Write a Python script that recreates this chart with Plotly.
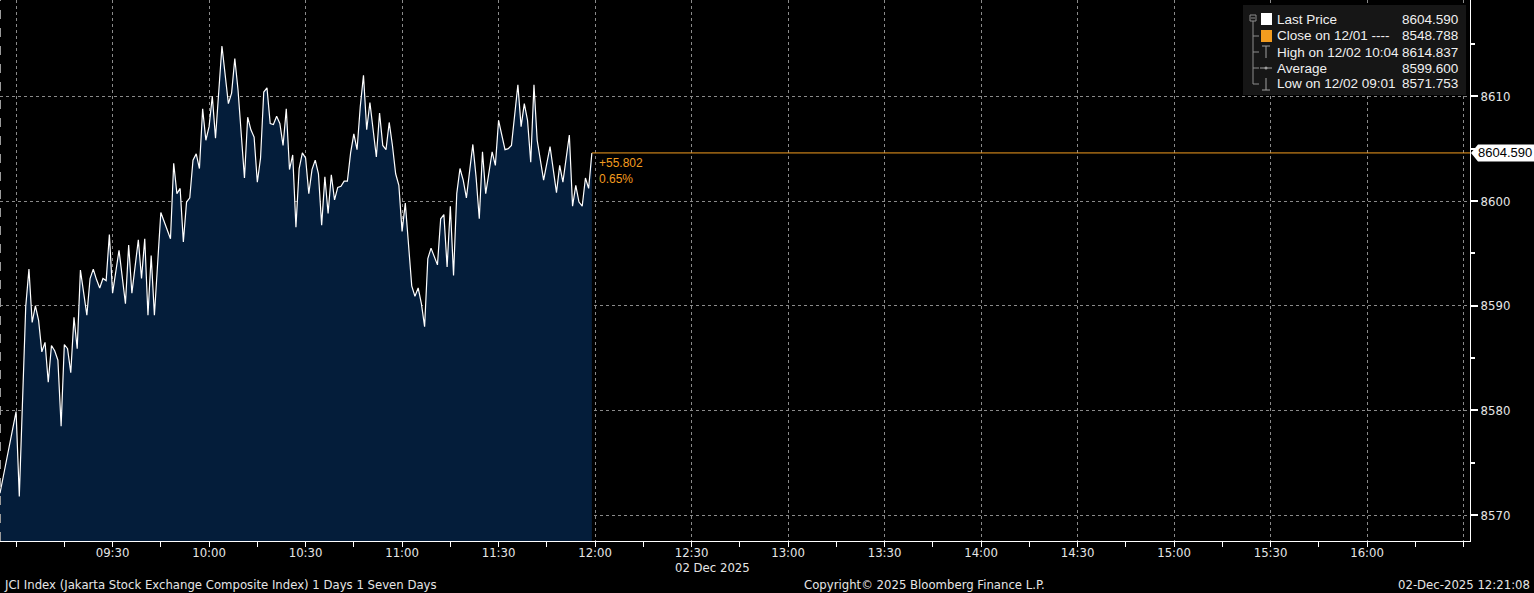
import plotly.graph_objects as go

# ---------------- data ----------------
day = "2025-12-02"
times = ["08:55", "09:00", "09:01", "09:02", "09:03", "09:04", "09:05", "09:06", "09:07", "09:08",
         "09:09", "09:10", "09:11", "09:12", "09:13", "09:14", "09:15", "09:16", "09:17", "09:18",
         "09:19", "09:20", "09:21", "09:22", "09:23", "09:24", "09:25", "09:26", "09:27", "09:28",
         "09:29", "09:30", "09:32", "09:34", "09:35", "09:36", "09:38", "09:39", "09:40", "09:41",
         "09:42", "09:43", "09:45", "09:48", "09:49", "09:50", "09:51", "09:52", "09:53", "09:54",
         "09:55", "09:56", "09:57", "09:58", "09:59", "10:00", "10:01", "10:02", "10:04", "10:06",
         "10:07", "10:08", "10:09", "10:11", "10:12", "10:13", "10:14", "10:15", "10:16", "10:17",
         "10:18", "10:19", "10:20", "10:21", "10:22", "10:23", "10:24", "10:25", "10:26", "10:27",
         "10:28", "10:29", "10:30", "10:31", "10:32", "10:33", "10:34", "10:35", "10:36", "10:37",
         "10:38", "10:39", "10:40", "10:41", "10:42", "10:43", "10:44", "10:45", "10:46", "10:47",
         "10:48", "10:49", "10:50", "10:52", "10:53", "10:54", "10:55", "10:56", "10:57", "10:58",
         "10:59", "11:00", "11:01", "11:02", "11:03", "11:04", "11:05", "11:06", "11:07", "11:08",
         "11:09", "11:11", "11:12", "11:13", "11:14", "11:15", "11:16", "11:17", "11:18", "11:19",
         "11:20", "11:22", "11:23", "11:24", "11:25", "11:26", "11:28", "11:29", "11:30", "11:32",
         "11:33", "11:34", "11:36", "11:37", "11:38", "11:39", "11:40", "11:41", "11:42", "11:44",
         "11:46", "11:48", "11:49", "11:50", "11:52", "11:53", "11:54", "11:55", "11:56", "11:57",
         "11:58", "11:59"]
prices = [8572.1, 8579.9, 8571.8, 8580.0, 8589.9, 8593.5, 8588.4, 8590.0, 8588.6, 8585.6,
          8586.5, 8582.7, 8586.2, 8585.7, 8584.8, 8578.5, 8586.3, 8585.9, 8583.6, 8588.9,
          8585.9, 8593.4, 8591.3, 8589.1, 8592.6, 8593.5, 8592.5, 8591.7, 8592.6, 8592.4,
          8596.8, 8591.2, 8595.3, 8590.2, 8595.8, 8591.2, 8596.3, 8592.6, 8596.4, 8589.1,
          8594.8, 8589.1, 8598.9, 8596.4, 8603.6, 8600.7, 8601.2, 8596.1, 8599.9, 8600.3,
          8603.9, 8604.5, 8603.1, 8608.8, 8605.8, 8607.1, 8610.0, 8606.0, 8614.8, 8609.3,
          8610.3, 8613.6, 8610.6, 8602.2, 8608.0, 8606.8, 8606.1, 8601.8, 8604.1, 8610.4,
          8610.8, 8607.4, 8607.3, 8608.1, 8607.4, 8605.3, 8608.8, 8603.0, 8604.4, 8597.5,
          8603.1, 8604.6, 8604.1, 8600.7, 8603.0, 8603.9, 8602.6, 8597.7, 8602.3, 8598.8,
          8602.5, 8600.1, 8601.3, 8601.4, 8601.9, 8601.9, 8604.6, 8606.4, 8604.9, 8609.0,
          8612.0, 8606.8, 8609.4, 8604.2, 8608.4, 8605.3, 8604.9, 8607.5, 8605.3, 8602.6,
          8601.5, 8597.1, 8599.8, 8595.6, 8591.9, 8590.9, 8591.7, 8590.2, 8588.0, 8594.5,
          8595.5, 8593.9, 8598.3, 8598.7, 8593.7, 8599.5, 8592.9, 8600.7, 8603.1, 8602.0,
          8600.3, 8605.4, 8602.3, 8598.3, 8604.7, 8600.7, 8604.7, 8603.4, 8607.7, 8604.9,
          8605.0, 8605.3, 8611.1, 8607.1, 8609.3, 8607.7, 8603.7, 8611.1, 8605.8, 8602.0,
          8605.2, 8600.8, 8603.4, 8601.8, 8606.3, 8599.5, 8601.5, 8599.9, 8599.5, 8602.2,
          8601.2, 8604.59]

legend_labels = ["Last Price", "Close on 12/01 ----", "High on 12/02 10:04", "Average", "Low on 12/02 09:01"]
legend_values = [8604.590, 8548.788, 8614.837, 8599.600, 8571.753]
prev_close = 8548.788

x_tick_labels = ["", "09:30", "10:00", "10:30", "11:00", "11:30", "12:00", "12:30", "13:00",
                 "13:30", "14:00", "14:30", "15:00", "15:30", "16:00", ""]
y_tick_vals = [8570, 8580, 8590, 8600, 8610]

# ---------------- layout helpers ----------------
W, H = 1534, 593
ML, MR, MT, MB = 0, 64, 0, 52
PW, PH = W - ML - MR, H - MT - MB
Y_RANGE = [8567.54, 8619.19]


def px(x):
    return (x - ML) / PW


def py(y):
    return (H - MB - y) / PH


def ts(t):
    return f"{day} {t}:00"


xs = [ts(t) for t in times]
last_x, last_y = xs[-1], prices[-1]

x_tick_vals = []
minor_vals = []
for m in range(0, 451, 15):
    hh, mm = 9 + m // 60, m % 60
    v = f"{day} {hh:02d}:{mm:02d}:00"
    if m % 30 == 0:
        x_tick_vals.append(v)
    else:
        minor_vals.append(v)

NARROW = "Liberation Sans Narrow, DejaVu Sans Condensed, Arial Narrow, sans-serif"
SANS = "Liberation Sans, Arial, sans-serif"
ORANGE = "#f39c1f"
GRID = "#8a8a8a"

fig = go.Figure()
fig.add_trace(go.Scatter(
    x=xs, y=prices, mode="lines",
    line=dict(color="#ffffff", width=1.2),
    fill="tozeroy", fillcolor="#041d3a",
    hoverinfo="skip", showlegend=False,
))
# previous-close-change reference line from last point to right edge
fig.add_trace(go.Scatter(
    x=[last_x, ts("16:32")], y=[last_y, last_y], mode="lines",
    line=dict(color=ORANGE, width=1), hoverinfo="skip", showlegend=False,
))

shapes = []
annotations = []

# left dashed border
shapes.append(dict(type="line", xref="paper", yref="paper", x0=px(0.5), x1=px(0.5), y0=0, y1=1,
                   line=dict(color="#9a9a9a", width=1, dash="dash")))

# change annotation
chg = last_y - prev_close
pct = chg / prev_close * 100
annotations.append(dict(x=last_x, y=last_y, xref="x", yref="y", xanchor="left", yanchor="top",
                        xshift=5, yshift=-1, showarrow=False, align="left",
                        text=f"+{chg:.3f}<br>{pct:.2f}%",
                        font=dict(color=ORANGE, size=12, family=SANS)))

# last price box on right axis
dy = 8.5 / (PH / (Y_RANGE[1] - Y_RANGE[0]))
shapes.append(dict(type="path", xref="paper", yref="y",
                   path=f"M {px(1471)},{last_y} L {px(1478)},{last_y + dy} L {px(1534)},{last_y + dy} "
                        f"L {px(1534)},{last_y - dy} L {px(1478)},{last_y - dy} Z",
                   fillcolor="#ffffff", line=dict(width=0)))
annotations.append(dict(x=px(1505), y=last_y, xref="paper", yref="y", xanchor="center", yanchor="middle",
                        showarrow=False, text=f"{last_y:.3f}",
                        font=dict(color="#000000", size=13, family=SANS)))

# legend box
shapes.append(dict(type="rect", xref="paper", yref="paper", x0=px(1243), x1=px(1466), y0=py(95), y1=py(5),
                   fillcolor="#161616", line=dict(width=0), layer="above"))
rows = [19, 36, 52, 68, 84]
for lab, val, ry in zip(legend_labels, legend_values, rows):
    annotations.append(dict(x=px(1275), y=py(ry), xref="paper", yref="paper", xanchor="left",
                            yanchor="middle", showarrow=False, text=lab,
                            font=dict(color="#f0f0f0", size=13.5, family=SANS)))
    annotations.append(dict(x=px(1460), y=py(ry), xref="paper", yref="paper", xanchor="right",
                            yanchor="middle", showarrow=False, text=f"{val:.3f}",
                            font=dict(color="#f0f0f0", size=13.5, family=SANS)))
tree = "#8c8c8c"
# tree structure
shapes.append(dict(type="rect", xref="paper", yref="paper", x0=px(1250), x1=px(1256), y0=py(21), y1=py(15),
                   line=dict(color=tree, width=1), layer="above"))
shapes.append(dict(type="line", xref="paper", yref="paper", x0=px(1251), x1=px(1255), y0=py(18), y1=py(18),
                   line=dict(color=tree, width=1), layer="above"))
shapes.append(dict(type="line", xref="paper", yref="paper", x0=px(1253), x1=px(1253), y0=py(21), y1=py(84),
                   line=dict(color=tree, width=1), layer="above"))
for ry in rows[1:]:
    shapes.append(dict(type="line", xref="paper", yref="paper", x0=px(1253), x1=px(1259), y0=py(ry), y1=py(ry),
                       line=dict(color=tree, width=1), layer="above"))
# symbols
shapes.append(dict(type="rect", xref="paper", yref="paper", x0=px(1261), x1=px(1272), y0=py(25), y1=py(13),
                   fillcolor="#ffffff", line=dict(width=0), layer="above"))
shapes.append(dict(type="rect", xref="paper", yref="paper", x0=px(1261), x1=px(1272), y0=py(42), y1=py(30),
                   fillcolor=ORANGE, line=dict(width=0), layer="above"))
sym = "#a0a0a0"
shapes.append(dict(type="line", xref="paper", yref="paper", x0=px(1262), x1=px(1270), y0=py(46), y1=py(46),
                   line=dict(color=sym, width=1), layer="above"))
shapes.append(dict(type="line", xref="paper", yref="paper", x0=px(1266), x1=px(1266), y0=py(46), y1=py(58),
                   line=dict(color=sym, width=1), layer="above"))
shapes.append(dict(type="line", xref="paper", yref="paper", x0=px(1260), x1=px(1272), y0=py(68), y1=py(68),
                   line=dict(color=sym, width=1), layer="above"))
shapes.append(dict(type="circle", xref="paper", yref="paper", x0=px(1264.5), x1=px(1267.5), y0=py(69.5),
                   y1=py(66.5), fillcolor=sym, line=dict(width=0), layer="above"))
shapes.append(dict(type="line", xref="paper", yref="paper", x0=px(1266), x1=px(1266), y0=py(78), y1=py(90),
                   line=dict(color=sym, width=1), layer="above"))
shapes.append(dict(type="line", xref="paper", yref="paper", x0=px(1262), x1=px(1270), y0=py(90), y1=py(90),
                   line=dict(color=sym, width=1), layer="above"))

# date label & footer
annotations.append(dict(x=px(712), y=py(567), xref="paper", yref="paper", xanchor="center", yanchor="middle",
                        showarrow=False, text="02 Dec 2025",
                        font=dict(color="#e6e6e6", size=13, family=NARROW)))
annotations.append(dict(x=px(2), y=py(584), xref="paper", yref="paper", xanchor="left", yanchor="middle",
                        showarrow=False,
                        text="JCI Index (Jakarta Stock Exchange Composite Index) 1 Days 1 Seven Days",
                        font=dict(color="#e6e6e6", size=13, family=NARROW)))
annotations.append(dict(x=px(924), y=py(584), xref="paper", yref="paper", xanchor="center", yanchor="middle",
                        showarrow=False, text="Copyright© 2025 Bloomberg Finance L.P.",
                        font=dict(color="#e6e6e6", size=13, family=NARROW)))
annotations.append(dict(x=px(1532), y=py(584), xref="paper", yref="paper", xanchor="right", yanchor="middle",
                        showarrow=False, text="02-Dec-2025 12:21:08",
                        font=dict(color="#e6e6e6", size=13, family=NARROW)))

fig.update_layout(
    width=W, height=H,
    margin=dict(l=ML, r=MR, t=MT, b=MB, pad=0),
    paper_bgcolor="#000000", plot_bgcolor="#000000",
    showlegend=False,
    shapes=shapes, annotations=annotations,
    xaxis=dict(
        type="date", range=[ts("08:55"), ts("16:32")],
        tickmode="array", tickvals=x_tick_vals, ticktext=x_tick_labels,
        ticks="outside", ticklen=5, tickcolor="#ffffff", tickwidth=1,
        ticklabelstandoff=-6,
        showline=True, linecolor="#ffffff", linewidth=1,
        showgrid=True, gridcolor=GRID, griddash="dot", gridwidth=1,
        zeroline=False,
        tickfont=dict(color="#e6e6e6", size=13, family=NARROW),
        minor=dict(tickmode="array", tickvals=minor_vals, ticks="outside", ticklen=5,
                   tickcolor="#ffffff", showgrid=False),
    ),
    yaxis=dict(
        side="right", range=Y_RANGE,
        tickmode="array", tickvals=y_tick_vals, ticktext=[str(v) for v in y_tick_vals],
        ticks="outside", ticklen=7, tickwidth=2, tickcolor="#ffffff",
        showline=True, linecolor="#ffffff", linewidth=1,
        showgrid=True, gridcolor=GRID, griddash="dot", gridwidth=1,
        zeroline=False,
        tickfont=dict(color="#e6e6e6", size=13, family=NARROW),
        minor=dict(dtick=10, tick0=8575, ticks="outside", ticklen=4, tickcolor="#ffffff", showgrid=False),
    ),
)

fig.write_html(
    "out.html",
    config={"displayModeBar": False},
    post_script="document.body.style.margin='0px';document.body.style.overflow='hidden';",
)
